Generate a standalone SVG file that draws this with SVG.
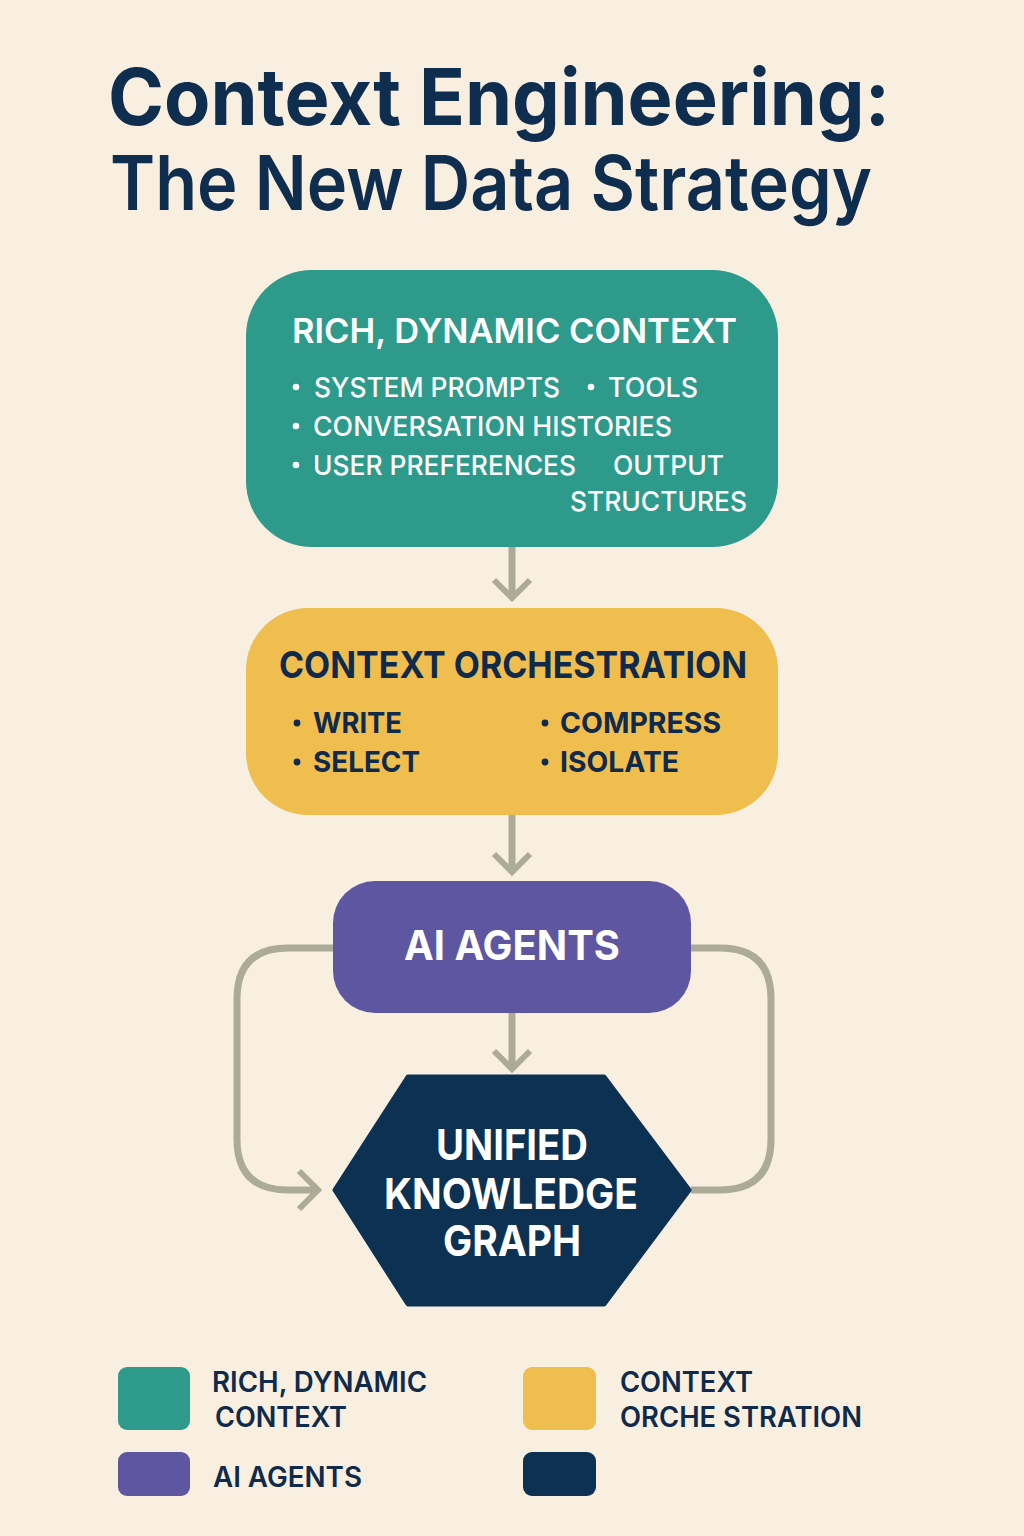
<svg xmlns="http://www.w3.org/2000/svg" width="1024" height="1536" viewBox="0 0 1024 1536">
  <style>
    .ttl { font-family: Inter, "Liberation Sans", sans-serif; fill: #0F2D4E; }
    .w { font-family: Inter, "Liberation Sans", sans-serif; fill: #FFFFFF; }
    .n { font-family: Inter, "Liberation Sans", sans-serif; fill: #0F2A4A; }
    .conn { fill: none; stroke: #ABAB98; stroke-width: 7; stroke-linecap: butt; stroke-linejoin: miter; }
    .chev { fill: none; stroke: #ABAB98; stroke-width: 6; }
  </style>

  <rect width="1024" height="1536" fill="#F9EFE1"/>

  <!-- heading -->
  <g id="title">
    <text class="ttl" x="108" y="125" font-size="78" font-weight="700" textLength="782" lengthAdjust="spacingAndGlyphs">Context Engineering:</text>
    <text class="ttl" x="110" y="210" font-size="76" font-weight="600" textLength="762" lengthAdjust="spacingAndGlyphs">The New Data Strategy</text>
  </g>

  <!-- connectors -->
  <g id="connectors">
    <path class="conn" d="M512 547 V597"/>
    <path class="chev" d="M494 580 L512 598 L530 580"/>
    <path class="conn" d="M512 815 V871"/>
    <path class="chev" d="M494 854 L512 872 L530 854"/>
    <path class="conn" d="M512 1013 V1068"/>
    <path class="chev" d="M494 1051 L512 1069 L530 1051"/>
    <!-- feedback loops around the agents and the graph -->
    <path class="conn" d="M333 948 H288 Q237 948 237 999 V1139 Q237 1190 288 1190 H318"/>
    <path class="chev" d="M299 1171 L318 1190 L299 1209"/>
    <path class="conn" d="M691 948 H720 Q771 948 771 999 V1139 Q771 1190 720 1190 H691"/>
  </g>

  <!-- rich, dynamic context -->
  <g id="node-context">
    <rect x="246" y="270" width="532" height="277" rx="66" fill="#2E9A8C"/>
    <text class="w" x="292" y="343" font-size="34" font-weight="600" textLength="445" lengthAdjust="spacingAndGlyphs">RICH, DYNAMIC CONTEXT</text>
    <g font-size="27" font-weight="500">
      <circle cx="296" cy="387" r="3.3" fill="#FFFFFF"/>
      <text class="w" x="314" y="397" textLength="246" lengthAdjust="spacingAndGlyphs">SYSTEM PROMPTS</text>
      <circle cx="591" cy="387" r="3.3" fill="#FFFFFF"/>
      <text class="w" x="608" y="397" textLength="90" lengthAdjust="spacingAndGlyphs">TOOLS</text>
      <circle cx="296" cy="426" r="3.3" fill="#FFFFFF"/>
      <text class="w" x="313" y="436" textLength="359" lengthAdjust="spacingAndGlyphs">CONVERSATION HISTORIES</text>
      <circle cx="296" cy="465" r="3.3" fill="#FFFFFF"/>
      <text class="w" x="313" y="475" textLength="263" lengthAdjust="spacingAndGlyphs">USER PREFERENCES</text>
      <text class="w" x="613" y="475" textLength="111" lengthAdjust="spacingAndGlyphs">OUTPUT</text>
      <text class="w" x="570" y="511" textLength="177" lengthAdjust="spacingAndGlyphs">STRUCTURES</text>
    </g>
  </g>

  <!-- context orchestration -->
  <g id="node-orchestration">
    <rect x="246" y="608" width="532" height="207" rx="62" fill="#F0BD4F"/>
    <text class="n" x="279" y="678" font-size="37" font-weight="700" textLength="468" lengthAdjust="spacingAndGlyphs">CONTEXT ORCHESTRATION</text>
    <g font-size="29" font-weight="650">
      <circle cx="297" cy="723" r="3.4" fill="#0F2A4A"/>
      <text class="n" x="313" y="733" textLength="89" lengthAdjust="spacingAndGlyphs">WRITE</text>
      <circle cx="545" cy="723" r="3.4" fill="#0F2A4A"/>
      <text class="n" x="560" y="733" textLength="161" lengthAdjust="spacingAndGlyphs">COMPRESS</text>
      <circle cx="297" cy="762" r="3.4" fill="#0F2A4A"/>
      <text class="n" x="313" y="772" textLength="107" lengthAdjust="spacingAndGlyphs">SELECT</text>
      <circle cx="545" cy="762" r="3.4" fill="#0F2A4A"/>
      <text class="n" x="560" y="772" textLength="119" lengthAdjust="spacingAndGlyphs">ISOLATE</text>
    </g>
  </g>

  <!-- ai agents -->
  <g id="node-agents">
    <rect x="333" y="881" width="358" height="132" rx="42" fill="#5E56A0"/>
    <text class="w" x="404" y="960" font-size="41" font-weight="700" textLength="216" lengthAdjust="spacingAndGlyphs">AI AGENTS</text>
  </g>

  <!-- unified knowledge graph -->
  <g id="node-graph">
    <polygon points="408,1077 604,1077 689,1190 604,1304 408,1304 335,1190" fill="#0C3152" stroke="#0C3152" stroke-width="5" stroke-linejoin="round"/>
    <g font-size="43" font-weight="700" text-anchor="middle">
      <text class="w" x="512" y="1160" textLength="152" lengthAdjust="spacingAndGlyphs">UNIFIED</text>
      <text class="w" x="511" y="1209" textLength="254" lengthAdjust="spacingAndGlyphs">KNOWLEDGE</text>
      <text class="w" x="512" y="1256" textLength="138" lengthAdjust="spacingAndGlyphs">GRAPH</text>
    </g>
  </g>

  <!-- legend -->
  <g id="legend">
    <rect x="118" y="1367" width="72" height="63" rx="9" fill="#2E9A8C"/>
    <text class="n" x="212" y="1392" font-size="28" font-weight="600" textLength="215" lengthAdjust="spacingAndGlyphs">RICH, DYNAMIC</text>
    <text class="n" x="215" y="1427" font-size="28" font-weight="600" textLength="132" lengthAdjust="spacingAndGlyphs">CONTEXT</text>
    <rect x="523" y="1367" width="73" height="63" rx="9" fill="#F0BD4F"/>
    <text class="n" x="620" y="1392" font-size="28" font-weight="600" textLength="133" lengthAdjust="spacingAndGlyphs">CONTEXT</text>
    <text class="n" x="620" y="1427" font-size="28" font-weight="600" textLength="242" lengthAdjust="spacingAndGlyphs">ORCHE STRATION</text>
    <rect x="118" y="1452" width="72" height="44" rx="9" fill="#5E56A0"/>
    <text class="n" x="213" y="1487" font-size="28" font-weight="600" textLength="149" lengthAdjust="spacingAndGlyphs">AI AGENTS</text>
    <rect x="523" y="1452" width="73" height="44" rx="9" fill="#0C3152"/>
  </g>
</svg>
